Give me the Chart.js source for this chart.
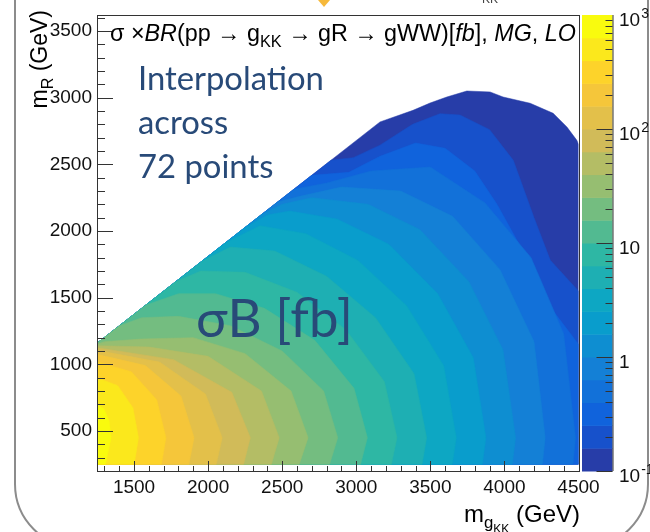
<!DOCTYPE html>
<html><head><meta charset="utf-8">
<script src="https://cdn.jsdelivr.net/npm/chart.js@4.4.1/dist/chart.umd.min.js"></script>
<style>html,body{margin:0;padding:0;background:#fff;}canvas{display:block;}</style>
</head><body>
<canvas id="c" width="650" height="532"></canvas>
<script>
// ---- axis ticks / labels ----
const xTicks = [1500, 2000, 2500, 3000, 3500, 4000, 4500];
const yTicks = [500, 1000, 1500, 2000, 2500, 3000, 3500];
const zTicks = [0.1, 1, 10, 100, 1000];
const zTickBase = ['10', '1', '10', '10', '10'];
const zTickExp = ['-1', '', '', '2', '3'];
// contour levels of sigma x BR [fb] (20 bands, 5 per decade)
const levels = [0.1, 0.1585, 0.2512, 0.3981, 0.631, 1, 1.585, 2.512, 3.981, 6.31, 10,
                15.85, 25.12, 39.81, 63.1, 100, 158.5, 251.2, 398.1, 631, 1000];
// domain of the interpolation (m_gKK, m_R) in GeV
const hullX = [1250, 4500, 4500, 4489, 4422, 4329, 4174, 3991, 3903, 3746, 3611, 3498, 3383, 3160, 1250];
const hullY = [250, 250, 2650, 2680, 2780, 2883, 2958, 3005, 3043, 3050, 3005, 2960, 2905, 2818, 1158];
// iso-lines sigmaB = levels[k]: [m_gKK, m_R] points, from the bottom edge to the left / upper edge
const contour1 = [[4500,250],[4500,1550],[4310,1780],[4200,2100],[4060,2530],[3900,2760],[3700,2870],[3565,2880],[3380,2800],[3160,2644],[2980,2550],[2830,2531]];
const contour2 = [[4500,250],[4500,1150],[4330,1400],[4150,1800],[3950,2200],[3800,2450],[3600,2620],[3400,2660],[3160,2560],[2950,2440],[2700,2418]];
const contour3 = [[4463,250],[4480,450],[4400,1230],[4180,1800],[3870,2210],[3500,2480],[3100,2450],[2800,2360],[2580,2314]];
const contour4 = [[4256,250],[4275,450],[4200,1170],[3970,1710],[3650,2110],[3300,2300],[2900,2330],[2620,2260],[2470,2218]];
const contour5 = [[4053,250],[4075,450],[3990,1110],[3760,1620],[3430,2010],[3080,2200],[2700,2250],[2500,2200],[2360,2123]];
const contour6 = [[3851,250],[3875,450],[3790,1050],[3550,1530],[3220,1900],[2870,2090],[2550,2150],[2400,2120],[2250,2027]];
const contour7 = [[3648,250],[3675,450],[3590,990],[3340,1440],[3010,1780],[2660,1980],[2350,2040],[2120,1914]];
const contour8 = [[3444,250],[3475,450],[3390,930],[3130,1350],[2800,1660],[2450,1850],[2150,1880],[1960,1775]];
const contour9 = [[3237,250],[3275,450],[3190,870],[2930,1260],[2600,1540],[2250,1690],[1950,1700],[1780,1619]];
const contour10 = [[3029,250],[3075,450],[2985,820],[2720,1180],[2380,1420],[2050,1530],[1800,1530],[1580,1445]];
const contour11 = [[2820,250],[2875,450],[2780,800],[2500,1100],[2150,1290],[1800,1360],[1550,1350],[1400,1288]];
const contour12 = [[2615,250],[2675,450],[2560,800],[2250,1080],[1900,1200],[1550,1190],[1300,1170],[1250,1150]];
const contour13 = [[2427,250],[2480,450],[2360,800],[2000,1060],[1600,1130],[1250,1140]];
const contour14 = [[2239,250],[2285,450],[2160,790],[1767,1035],[1250,1125]];
const contour15 = [[2055,250],[2095,450],[1982,777],[1672,1017],[1250,1105]];
const contour16 = [[1870,250],[1905,450],[1817,762],[1577,991],[1250,1075]];
const contour17 = [[1685,250],[1715,450],[1653,735],[1482,944],[1250,1020]];
const contour18 = [[1501,250],[1530,450],[1492,675],[1390,840],[1250,900]];
const contour19 = [[1307,250],[1345,450],[1332,575],[1297,667],[1250,700]];

const contours = [null, contour1, contour2, contour3, contour4, contour5, contour6, contour7, contour8, contour9, contour10,
  contour11, contour12, contour13, contour14, contour15, contour16, contour17, contour18, contour19];

// ROOT kBird palette
const birdR = [0.2082, 0.0592, 0.0780, 0.0232, 0.1802, 0.5301, 0.8186, 0.9956, 0.9764];
const birdG = [0.1664, 0.3599, 0.5041, 0.6419, 0.7178, 0.7492, 0.7328, 0.7862, 0.9832];
const birdB = [0.5293, 0.8684, 0.8385, 0.7914, 0.6425, 0.4662, 0.3499, 0.1968, 0.0539];
function bird(t) {
  const s = t * 8, i = Math.min(7, Math.floor(s)), f = s - i;
  const c = a => Math.round(255 * (a[i] + (a[i + 1] - a[i]) * f));
  return `rgb(${c(birdR)},${c(birdG)},${c(birdB)})`;
}
const nBands = levels.length - 1;
const bandColor = k => bird(Math.floor((k + 0.99) * 255 / nBands) / 254);

function polygon(k) {
  const n = hullX.length;
  if (k === 0) { const p = hullX.map((x, i) => ({x, y: hullY[i]})); p.push({x: hullX[0], y: hullY[0]}); return p; }
  const pts = contours[k].map(p => ({x: p[0], y: p[1]}));
  const last = pts[pts.length - 1];
  if (last.x > hullX[n - 1]) pts.push({x: hullX[n - 1], y: hullY[n - 1]});
  pts.push({x: hullX[0], y: hullY[0]});
  pts.push({x: pts[0].x, y: pts[0].y});
  return pts;
}

const datasets = [];
for (let k = nBands - 1; k >= 0; k--) {
  const col = bandColor(k);
  datasets.push({data: polygon(k), backgroundColor: col, borderColor: col, borderWidth: 0.5,
    pointRadius: 0, fill: 'shape', tension: 0});
}

const FONT = "'Liberation Sans', Arial, Helvetica, sans-serif";

function drawRuns(ctx, runs, x, y, size) {
  for (const r of runs) {
    const fs = r.sub ? size * 0.7 : size;
    ctx.font = `${r.it ? 'italic ' : ''}${fs}px ${FONT}`;
    ctx.fillText(r.t, x, y + (r.sub ? size * 0.28 : 0));
    x += ctx.measureText(r.t).width;
  }
}
function runsWidth(ctx, runs, size) {
  let w = 0;
  for (const r of runs) { const fs = r.sub ? size * 0.7 : size; ctx.font = `${r.it ? 'italic ' : ''}${fs}px ${FONT}`; w += ctx.measureText(r.t).width; }
  return w;
}

const deco = {
  id: 'deco',
  beforeDraw(chart) {
    const ctx = chart.ctx;
    ctx.save();
    ctx.fillStyle = '#fff'; ctx.fillRect(0, 0, chart.width, chart.height);
    ctx.strokeStyle = '#8c8c8c'; ctx.lineWidth = 2;
    ctx.beginPath(); ctx.roundRect(15, -100, 633, 648, 64); ctx.stroke();
    ctx.fillStyle = '#f6b93b';
    ctx.beginPath(); ctx.moveTo(318, 0); ctx.lineTo(330, 0); ctx.lineTo(324, 7); ctx.closePath(); ctx.fill();
    ctx.fillStyle = '#444'; ctx.font = `12px ${FONT}`; ctx.fillText('KK', 482, 3);
    ctx.restore();
  },
  afterDraw(chart) {
    const ctx = chart.ctx, a = chart.chartArea;
    const sx = chart.scales.x, sy = chart.scales.y, sz = chart.scales.cb;
    ctx.save();
    ctx.strokeStyle = '#333'; ctx.lineWidth = 1;
    ctx.strokeRect(Math.round(a.left) + 0.5, Math.round(a.top) + 0.5, Math.round(a.right - a.left), Math.round(a.bottom - a.top));
    ctx.beginPath();
    for (let v = 1300; v <= 4500; v += 100) {
      const p = Math.round(sx.getPixelForValue(v)) + 0.5, len = v % 500 === 0 ? 10 : 5;
      ctx.moveTo(p, a.bottom); ctx.lineTo(p, a.bottom - len);
    }
    for (let v = 300; v <= 3600; v += 100) {
      const p = Math.round(sy.getPixelForValue(v)) + 0.5, len = v % 500 === 0 ? 16 : 8;
      ctx.moveTo(a.left, p); ctx.lineTo(a.left + len, p);
    }
    ctx.stroke();
    // colour bar
    const cbL = a.right + 3.5, cbR = a.right + 34;
    for (let k = 0; k < nBands; k++) {
      const y0 = sz.getPixelForValue(levels[k]), y1 = sz.getPixelForValue(levels[k + 1]);
      ctx.fillStyle = bandColor(k);
      ctx.fillRect(cbL, y1, cbR - cbL, y0 - y1 + 0.5);
    }
    ctx.strokeStyle = '#333';
    ctx.beginPath();
    ctx.moveTo(cbR + 0.5, sz.top); ctx.lineTo(cbR + 0.5, sz.bottom);
    for (let d = 0.1; d < 1000; d *= 10) {
      for (let m = 1; m < 10; m++) {
        const v = d * m; const p = Math.round(sz.getPixelForValue(v)) + 0.5;
        const len = m === 1 ? 16 : 7;
        ctx.moveTo(cbR, p); ctx.lineTo(cbR - len, p);
      }
    }
    ctx.stroke();
    ctx.fillStyle = '#111'; ctx.textBaseline = 'alphabetic'; ctx.textAlign = 'left';
    zTicks.forEach((v, i) => {
      const p = sz.getPixelForValue(v) + 11;
      ctx.font = `19px ${FONT}`;
      ctx.fillText(zTickBase[i], 619, p);
      if (zTickExp[i]) {
        const w = ctx.measureText(zTickBase[i]).width;
        ctx.font = `14px ${FONT}`;
        ctx.fillText(zTickExp[i], 619 + w + 1, p - 8);
      }
    });
    // title inside the frame
    ctx.fillStyle = '#000';
    const title = [{t: '\u03C3 \u00D7'}, {t: 'BR', it: 1}, {t: '(pp \u2192 g'}, {t: 'KK', sub: 1},
      {t: ' \u2192 gR \u2192 gWW)['}, {t: 'fb', it: 1}, {t: '], '}, {t: 'MG', it: 1}, {t: ', '}, {t: 'LO', it: 1}];
    let fs = 22; fs = fs * 466 / runsWidth(ctx, title, fs);
    drawRuns(ctx, title, 110, 40.5, fs);
    // x axis title
    const xs = 24;
    ctx.font = `${xs}px ${FONT}`;
    const wG = ctx.measureText(' (GeV)').width;
    const wm = ctx.measureText('m').width;
    ctx.font = `${xs * 0.7}px ${FONT}`; const wg = ctx.measureText('g').width;
    ctx.font = `${xs * 0.5}px ${FONT}`; const wkk = ctx.measureText('KK').width;
    let x0 = 580 - wG - wkk - wg - wm, yb = 522;
    ctx.font = `${xs}px ${FONT}`; ctx.fillText('m', x0, yb);
    ctx.font = `${xs * 0.7}px ${FONT}`; ctx.fillText('g', x0 + wm, yb + 6);
    ctx.font = `${xs * 0.5}px ${FONT}`; ctx.fillText('KK', x0 + wm + wg, yb + 11);
    ctx.font = `${xs}px ${FONT}`; ctx.fillText(' (GeV)', x0 + wm + wg + wkk, yb);
    // y axis title
    ctx.save();
    ctx.translate(47, 10); ctx.rotate(-Math.PI / 2);
    const yt = [{t: 'm'}, {t: 'R', sub: 1}, {t: ' (GeV)'}];
    const ys = 23; const yw = runsWidth(ctx, yt, ys);
    drawRuns(ctx, yt, -yw, 0, ys);
    ctx.restore();
    // slide annotations
    ctx.fillStyle = '#284a78';
    let fsz = 30; ctx.font = `${fsz}px Lato, 'Open Sans', sans-serif`;
    fsz = fsz * 186 / ctx.measureText('Interpolation').width;
    ctx.font = `${fsz}px Lato, 'Open Sans', sans-serif`;
    ctx.fillText('Interpolation', 138, 90);
    ctx.fillText('across', 138, 134);
    ctx.fillText('72 points', 138, 178);
    let fb = 40; ctx.font = `${fb}px Lato, 'Open Sans', sans-serif`;
    fb = fb * 157 / ctx.measureText('\u03C3B [fb]').width;
    ctx.font = `${fb}px Lato, 'Open Sans', sans-serif`;
    ctx.fillText('\u03C3B [fb]', 196, 337);
    ctx.restore();
  }
};

const tickFont = {family: FONT, size: 19};
const noPadV = s => { s.paddingTop = 0; s.paddingBottom = 0; };
new Chart(document.getElementById('c'), {
  type: 'line',
  data: {datasets},
  options: {
    responsive: false, animation: false, devicePixelRatio: 1,
    layout: {padding: {top: 15, left: 0, right: 0, bottom: 0}},
    plugins: {legend: {display: false}, tooltip: {enabled: false}, filler: {propagate: false}},
    scales: {
      x: {type: 'linear', min: 1250, max: 4500, position: 'bottom',
        grid: {display: false, drawTicks: false}, border: {display: false},
        afterBuildTicks: s => { s.ticks = xTicks.map(v => ({value: v})); },
        ticks: {font: tickFont, color: '#111', padding: 5, maxRotation: 0, autoSkip: false, callback: v => String(v)},
        afterFit: s => { s.height = 61; s.paddingLeft = 0; s.paddingRight = 0; }},
      y: {type: 'linear', min: 200, max: 3620, position: 'left',
        grid: {display: false, drawTicks: false}, border: {display: false},
        afterBuildTicks: s => { s.ticks = yTicks.map(v => ({value: v})); },
        ticks: {font: tickFont, color: '#111', padding: 5, autoSkip: false, callback: v => String(v)},
        afterFit: s => { s.width = 97; noPadV(s); }},
      cb: {type: 'logarithmic', axis: 'y', min: 0.1, max: 1000, position: 'right',
        grid: {display: false, drawTicks: false}, border: {display: false},
        afterBuildTicks: s => { s.ticks = zTicks.map(v => ({value: v})); },
        ticks: {display: false},
        afterFit: s => { s.width = 71.5; noPadV(s); }}
    }
  },
  plugins: [deco]
});
</script>
</body></html>
